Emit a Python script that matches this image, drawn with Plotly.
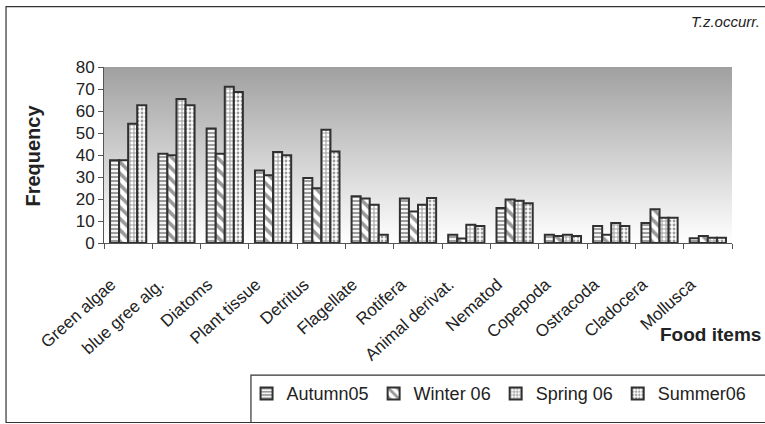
import base64
import plotly.graph_objects as go

# Food item categories and seasonal frequency of occurrence
categories = ["Green algae", "blue gree alg.", "Diatoms", "Plant tissue", "Detritus",
              "Flagellate", "Rotifera", "Animal derivat.", "Nematod", "Copepoda",
              "Ostracoda", "Cladocera", "Mollusca"]
autumn05 = [37.6, 40.6, 52.0, 33.0, 29.6, 21.2, 20.2, 3.8, 15.9, 3.8, 7.7, 9.1, 2.2]
winter06 = [37.6, 39.9, 40.6, 30.8, 24.9, 20.2, 14.3, 2.0, 19.8, 3.2, 3.8, 15.3, 3.2]
spring06 = [54.2, 65.5, 71.0, 41.4, 51.5, 17.4, 17.4, 8.3, 19.2, 3.8, 9.1, 11.5, 2.4]
summer06 = [62.6, 62.6, 68.6, 39.9, 41.6, 3.8, 20.4, 7.7, 18.1, 3.2, 7.7, 11.5, 2.4]
series_names = ["Autumn05", "Winter 06", "Spring 06", "Summer06"]
y_ticks = [0, 10, 20, 30, 40, 50, 60, 70, 80]

FONT = "Liberation Sans, Arial, sans-serif"
INK = "#222222"
EDGE = "#303030"

patterns = [
    dict(shape="-", fgcolor="#3c3c3c", bgcolor="white", size=4, solidity=0.55),
    dict(shape="\\", fgcolor="#333333", bgcolor="white", size=8, solidity=0.45),
    dict(shape="+", fgcolor="#3c3c3c", bgcolor="white", size=4, solidity=0.45),
    dict(shape=".", fgcolor="#3a3a3a", bgcolor="white", size=4, solidity=0.4),
]

fig = go.Figure()
for name, vals, pat in zip(series_names, [autumn05, winter06, spring06, summer06], patterns):
    fig.add_trace(go.Bar(
        x=categories, y=vals, name=name,
        marker=dict(color="white", pattern=pat, line=dict(color=EDGE, width=2)),
    ))

# Vertical grey-to-white gradient behind the plot area
svg = ('<svg xmlns="http://www.w3.org/2000/svg" width="100" height="100" preserveAspectRatio="none">'
       '<defs><linearGradient id="g" x1="0" y1="0" x2="0" y2="1">'
       '<stop offset="0" stop-color="#a0a0a0"/><stop offset="1" stop-color="#ffffff"/>'
       '</linearGradient></defs><rect width="100" height="100" fill="url(#g)"/></svg>')
svg_uri = "data:image/svg+xml;base64," + base64.b64encode(svg.encode()).decode()

fig.update_layout(
    width=765, height=424,
    margin=dict(l=104, r=33, t=67, b=176),
    paper_bgcolor="white", plot_bgcolor="rgba(0,0,0,0)",
    barmode="group", bargap=0.25, bargroupgap=0,
    font=dict(family=FONT, color=INK, size=17),
    showlegend=True,
    legend=dict(orientation="h", x=0.227, y=-0.751, xanchor="left", yanchor="top",
                bgcolor="rgba(0,0,0,0)", borderwidth=0,
                font=dict(family=FONT, size=18, color=INK)),
    images=[dict(source=svg_uri, xref="paper", yref="paper", x=0, y=1,
                 sizex=1, sizey=1, xanchor="left", yanchor="top",
                 sizing="stretch", layer="below")],
    xaxis=dict(showgrid=False, showline=True, linecolor="#555555", linewidth=1,
               ticks="outside", ticklen=5, tickcolor="#555555", tickson="boundaries",
               tickangle=-42, ticklabelstandoff=24, ticklabelshift=-17,
               tickfont=dict(family=FONT, size=17, color=INK)),
    yaxis=dict(range=[0, 80], tickvals=y_ticks, showgrid=False, zeroline=False,
               showline=True, linecolor="#555555", linewidth=1,
               ticks="outside", ticklen=5, tickcolor="#555555",
               tickfont=dict(family=FONT, size=17, color=INK)),
    shapes=[
        # outer chart frame
        dict(type="rect", xref="paper", yref="paper", x0=-0.156, x1=1.07,
             y0=-1.02, y1=1.3425, line=dict(color="#333333", width=1.2),
             fillcolor="rgba(0,0,0,0)", layer="above"),
        # legend frame
        dict(type="rect", xref="paper", yref="paper", x0=0.234, x1=1.07,
             y0=-1.02, y1=-0.751, line=dict(color="#333333", width=1.2),
             fillcolor="rgba(0,0,0,0)", layer="above"),
    ],
    annotations=[
        dict(text="<b>Frequency</b>", xref="paper", yref="paper", x=-0.1146, y=0.497,
             textangle=-90, showarrow=False, xanchor="center", yanchor="middle",
             font=dict(family=FONT, size=20, color=INK)),
        dict(text="<b>Food items</b>", xref="paper", yref="paper", x=0.965, y=-0.519,
             showarrow=False, xanchor="center", yanchor="middle",
             font=dict(family=FONT, size=19, color=INK)),
        dict(text="<i>T.z.occurr.</i>", xref="paper", yref="paper", x=1.048, y=1.26,
             showarrow=False, xanchor="right", yanchor="middle",
             font=dict(family=FONT, size=15, color=INK)),
    ],
)

fig.write_html("out.html")
